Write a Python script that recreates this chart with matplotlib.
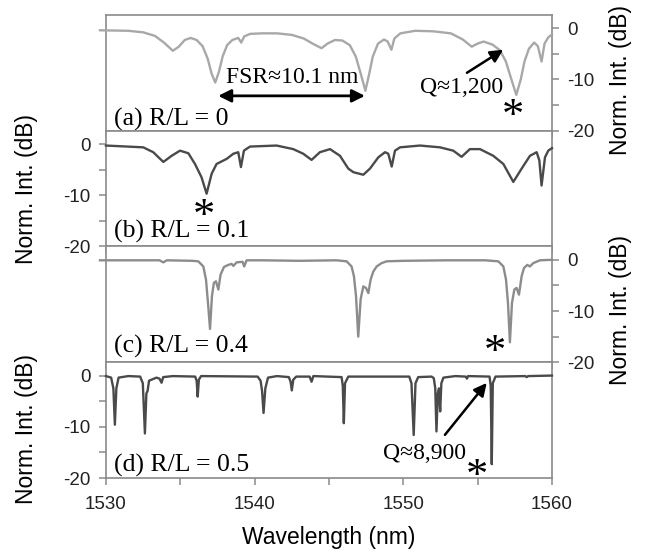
import matplotlib
matplotlib.use("Agg")
import matplotlib.pyplot as plt

plt.rcParams["axes.unicode_minus"] = False
plt.rcParams["font.family"] = ["Liberation Sans", "DejaVu Sans"]
SERIF = ["Liberation Serif", "DejaVu Serif"]

# (a) R/L = 0  -- spectrum (nm, dB)
wl_a = [1529.6, 1531.5, 1532.5, 1533.3, 1533.9, 1534.5, 1534.9, 1535.3, 1535.7, 1536.1,
        1536.5, 1536.85, 1537.1, 1537.35, 1537.6, 1537.85, 1538.15, 1538.5, 1538.9, 1539.1,
        1539.3, 1539.7, 1540.5, 1541.5, 1542.5, 1543.3, 1543.9, 1544.5, 1544.9, 1545.4,
        1545.9, 1546.4, 1546.8, 1547.15, 1547.45, 1547.7, 1547.95, 1548.3, 1548.7, 1548.95,
        1549.2, 1549.4, 1549.8, 1550.8, 1552.0, 1553.2, 1554.0, 1554.6, 1555.0, 1555.4,
        1556.0, 1556.5, 1556.9, 1557.25, 1557.6, 1557.9, 1558.15, 1558.45, 1558.8, 1559.05,
        1559.3, 1559.5, 1559.75, 1560.0]
db_a = [-0.4, -0.5, -0.8, -1.5, -2.8, -4.4, -3.6, -2.3, -1.9, -2.3,
        -3.5, -6.0, -8.8, -10.6, -8.5, -5.5, -3.3, -2.3, -1.9, -2.8,
        -1.6, -1.1, -1.0, -1.0, -1.3, -2.0, -3.0, -3.9, -3.0, -2.3,
        -2.4, -3.3, -5.5, -9.0, -12.2, -9.0, -5.5, -3.0, -2.2, -2.6,
        -4.2, -2.0, -1.0, -0.5, -0.6, -1.0, -2.2, -3.6, -3.0, -2.6,
        -3.2, -4.3, -6.5, -9.8, -13.0, -10.0, -6.5, -4.0, -2.8, -3.5,
        -6.5, -3.0, -1.8, -1.2]

# (b) R/L = 0.1
wl_b = [1530.0, 1532.51, 1533.18, 1533.86, 1534.42, 1534.98, 1535.54, 1535.99, 1536.43, 1536.77,
        1537.11, 1537.44, 1538.12, 1538.57, 1538.9, 1539.08, 1539.28, 1539.69, 1541.48, 1542.6,
        1543.27, 1543.83, 1544.39, 1545.07, 1545.74, 1546.3, 1546.64, 1547.31, 1547.76, 1548.32,
        1548.77, 1548.99, 1549.22, 1549.44, 1549.78, 1551.12, 1552.47, 1553.36, 1553.92, 1554.48,
        1555.16, 1556.05, 1556.73, 1557.4, 1557.96, 1558.52, 1558.97, 1559.15, 1559.3, 1559.53,
        1559.75, 1560.0]
db_b = [-0.3, -0.65, -1.6, -3.5, -2.3, -1.3, -1.8, -3.9, -6.5, -9.7,
        -5.8, -3.9, -2.9, -1.9, -1.6, -4.5, -1.3, -0.5, -0.3, -1.0,
        -1.9, -3.1, -1.6, -1.0, -2.3, -4.8, -5.5, -6.0, -4.8, -2.6,
        -1.6, -1.9, -4.4, -1.3, -0.65, -0.3, -0.65, -1.3, -2.5, -1.0,
        -1.0, -2.3, -3.9, -7.4, -4.8, -2.3, -1.6, -3.2, -8.1, -2.6,
        -1.3, -0.8]

# (c) R/L = 0.4
wl_c = [1529.6, 1531.0, 1533.6, 1533.86, 1534.1, 1535.8, 1536.21, 1536.55, 1536.73, 1536.88,
        1537.0, 1537.13, 1537.26, 1537.4, 1537.56, 1537.71, 1537.94, 1538.23, 1538.45, 1538.57,
        1538.79, 1539.19, 1539.3, 1539.46, 1540.5, 1543.0, 1545.5, 1546.19, 1546.52, 1546.68,
        1546.82, 1546.97, 1547.13, 1547.31, 1547.49, 1547.65, 1547.8, 1547.98, 1548.21, 1548.54,
        1548.88, 1550.0, 1553.0, 1555.5, 1556.39, 1556.73, 1556.91, 1557.04, 1557.17, 1557.31,
        1557.47, 1557.62, 1557.78, 1557.96, 1558.12, 1558.34, 1558.52, 1558.74, 1559.19, 1560.0]
db_c = [-0.1, -0.1, -0.1, -0.5, -0.1, -0.2, -0.3, -1.3, -3.9, -9.0,
        -13.5, -7.1, -4.5, -4.2, -5.8, -2.9, -1.4, -1.0, -0.8, -1.2,
        -0.5, -0.4, -1.3, -0.1, -0.1, -0.2, -0.1, -0.3, -1.3, -3.2,
        -7.1, -15.0, -7.7, -5.2, -5.5, -6.5, -3.9, -2.3, -1.3, -0.65,
        -0.3, -0.2, -0.1, -0.1, -0.3, -1.3, -3.9, -8.4, -16.1, -8.4,
        -5.8, -5.5, -6.8, -3.2, -1.6, -1.0, -1.3, -0.65, -0.1, 0.0]

# (d) R/L = 0.5
wl_d = [1530.0, 1530.35, 1530.5, 1530.6, 1530.7, 1530.85, 1531.5, 1532.3, 1532.48, 1532.62,
        1532.72, 1532.8, 1532.9, 1533.4, 1533.6, 1533.74, 1533.85, 1534.5, 1536.0, 1536.1,
        1536.17, 1536.25, 1536.4, 1540.2, 1540.4, 1540.5, 1540.6, 1540.72, 1540.9, 1541.5,
        1542.3, 1542.42, 1542.5, 1542.6, 1542.8, 1543.7, 1543.83, 1543.95, 1545.85, 1545.93,
        1546.0, 1546.08, 1546.3, 1550.4, 1550.55, 1550.7, 1550.82, 1551.0, 1551.9, 1552.05,
        1552.15, 1552.23, 1552.32, 1552.4, 1552.48, 1552.56, 1552.7, 1553.5, 1554.2, 1554.28,
        1554.36, 1555.8, 1555.88, 1555.95, 1556.02, 1556.2, 1558.2, 1558.3, 1558.4, 1560.0]
db_d = [-0.1, -0.4, -2.5, -9.6, -2.5, -0.4, -0.1, -0.2, -1.5, -11.3,
        -3.5, -3.0, -1.0, -0.4, -0.6, -1.4, -0.3, -0.1, -0.2, -1.0,
        -4.1, -0.8, -0.1, -0.2, -1.0, -3.0, -7.3, -2.5, -0.4, -0.1,
        -0.3, -1.2, -2.9, -0.8, -0.2, -0.2, -1.2, -0.1, -0.3, -2.0,
        -9.3, -1.5, -0.2, -0.2, -1.5, -11.6, -1.5, -0.3, -0.2, -0.5,
        -2.5, -10.9, -3.5, -2.5, -7.0, -1.5, -0.4, -0.1, -0.2, -0.6,
        -0.1, -0.2, -2.0, -17.3, -1.5, -0.2, -0.1, -0.3, -0.1, 0.0]

panel_labels = ["(a) R/L = 0", "(b) R/L = 0.1", "(c) R/L = 0.4", "(d) R/L = 0.5"]
waves = [wl_a, wl_b, wl_c, wl_d]
spectra = [db_a, db_b, db_c, db_d]
# marked resonance (asterisk) per panel
star_wl = [1557.36, 1536.61, 1556.17, 1554.93]
star_db = [-15.4, -12.4, -16.3, -17.8]

colors = ["#a8a8a8", "#4a4a4a", "#8c8c8c", "#4a4a4a"]
sides = ["right", "left", "right", "left"]
label_y = [0.045, 0.075, 0.083, 0.055]
ylab_y = [0.44, 0.5, 0.45, 0.42]
AX_GRAY = "#8a8a8a"

fig, axes = plt.subplots(4, 1, sharex=True, figsize=(6.54, 5.52), dpi=100)
fig.subplots_adjust(left=0.162, right=0.844, bottom=0.134, top=0.973, hspace=0)

for i, ax in enumerate(axes):
    ax.plot(waves[i], spectra[i], color=colors[i], lw=1.7, clip_on=False, zorder=3)
    ax.set_xlim(1530, 1560)
    ax.set_ylim(-20, 2.6)
    ax.set_yticks([0, -10, -20])
    ax.set_yticks([-5, -15], minor=True)
    ax.set_xticks([1530, 1540, 1550, 1560])
    ax.set_xticks([1535, 1545, 1555], minor=True)
    for sp in ax.spines.values():
        sp.set_color(AX_GRAY)
        sp.set_linewidth(1.2)
    ax.tick_params(which="both", direction="out", length=5, width=1.1,
                   color=AX_GRAY, labelsize=13.5, labelcolor="#222222")
    ax.tick_params(axis="x", pad=8)
    ax.tick_params(axis="y", pad=6)
    if sides[i] == "right":
        ax.yaxis.tick_right()
        ax.yaxis.set_label_position("right")
        ax.set_ylabel("Norm. Int. (dB)", fontsize=16.5)
        ax.yaxis.set_label_coords(1.128, ylab_y[i])
    else:
        ax.set_ylabel("Norm. Int. (dB)", fontsize=16.5)
        ax.yaxis.set_label_coords(-0.152, ylab_y[i])
    ax.text(0.018, label_y[i], panel_labels[i], transform=ax.transAxes,
            family=SERIF, fontsize=18.5, va="baseline", ha="left")
    ax.annotate("*", xy=(star_wl[i], star_db[i]), xytext=(0, -15),
                textcoords="offset points", family=SERIF, fontsize=32,
                ha="center", va="baseline")

axes[-1].set_xlabel("Wavelength (nm)", fontsize=16.5, labelpad=9)

# (a) free spectral range and Q annotations
ax = axes[0]
ax.annotate("", xy=(1537.55, -13.2), xytext=(1547.42, -13.2),
            arrowprops=dict(arrowstyle="<|-|>", color="black", lw=2,
                            mutation_scale=19, shrinkA=0, shrinkB=0))
ax.text(1542.5, -10.6, "FSR\u224810.1 nm", family=SERIF, fontsize=17,
        ha="center", va="baseline")
ax.annotate("", xy=(1556.72, -4.2), xytext=(1554.28, -8.7),
            arrowprops=dict(arrowstyle="-|>", color="black", lw=1.8,
                            mutation_scale=19, shrinkA=0, shrinkB=0))
ax.text(1553.9, -12.7, "Q\u22481,200", family=SERIF, fontsize=17,
        ha="center", va="baseline")

# (d) Q annotation
ax = axes[3]
ax.annotate("", xy=(1555.61, -1.43), xytext=(1552.8, -11.57),
            arrowprops=dict(arrowstyle="-|>", color="black", lw=1.8,
                            mutation_scale=19, shrinkA=0, shrinkB=0))
ax.text(1551.4, -16.3, "Q\u22488,900", family=SERIF, fontsize=17,
        ha="center", va="baseline")

fig.savefig("out.png", dpi=100)
